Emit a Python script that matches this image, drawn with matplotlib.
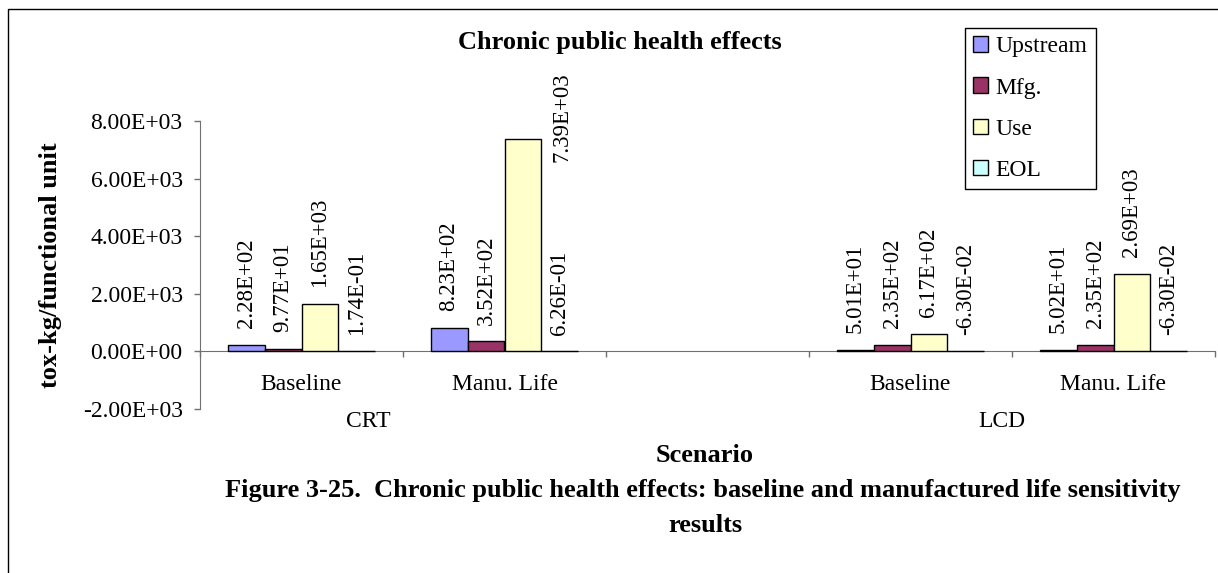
import numpy as np
import matplotlib
matplotlib.use("Agg")
import matplotlib.pyplot as plt
from matplotlib.ticker import FuncFormatter
from matplotlib.patches import Rectangle

# values (middle category is an empty spacer between CRT and LCD)
categories = ["Baseline", "Manu. Life", "", "Baseline", "Manu. Life"]
groups = ["CRT", "LCD"]
series = ["Upstream", "Mfg.", "Use", "EOL"]
upstream = [228, 823, np.nan, 50.1, 50.2]
mfg = [97.7, 352, np.nan, 235, 235]
use = [1650, 7390, np.nan, 617, 2690]
eol = [0.174, 0.626, np.nan, -0.063, -0.063]

colors = ["#9999FF", "#993366", "#FFFFCC", "#CCFFFF"]
axis_gray = "#707070"
FS = 17      # regular text
FSB = 19     # bold titles

plt.rcParams["font.family"] = ["Liberation Serif", "DejaVu Serif"]

fig = plt.figure(figsize=(12.18, 5.73), dpi=100)
ax = fig.add_axes([200 / 1218, 1 - 409 / 573, 1015 / 1218, 288 / 573])

ymin, ymax = -2000, 8000
x = np.arange(len(categories))
W = 0.182
for i, (vals, name, c) in enumerate(zip([upstream, mfg, use, eol], series, colors)):
    pos = x + (i - 1.5) * W
    ax.bar(pos, vals, W, color=c, edgecolor="black", linewidth=1, label=name, zorder=3)
    for p, v in zip(pos, vals):
        if np.isnan(v):
            continue
        top = max(v, 0)
        txt = "{:.2E}".format(v)
        if top + 3700 > ymax:
            # no room above the bar -> put label beside it
            ax.annotate(txt, (p + W / 2, top), xytext=(7, -17), textcoords="offset points",
                        rotation=90, ha="left", va="bottom", fontsize=16.5)
        else:
            ax.annotate(txt, (p, top), xytext=(0, 12), textcoords="offset points",
                        rotation=90, ha="center", va="bottom", fontsize=16.5)

ax.set_xlim(-0.5, len(categories) - 0.5)
ax.set_ylim(ymin, ymax)
ax.set_yticks(np.arange(ymin, ymax + 1, 2000))
ax.yaxis.set_major_formatter(FuncFormatter(lambda v, p: "{:.2E}".format(v)))

ax.set_xticks(np.arange(-0.5, len(categories), 1))
ax.set_xticklabels([])
ax.set_xticks(x, minor=True)
ax.set_xticklabels(categories, minor=True)

for s in ["top", "right"]:
    ax.spines[s].set_visible(False)
ax.spines["bottom"].set_position(("data", 0))
ax.spines["bottom"].set_color(axis_gray)
ax.spines["left"].set_color(axis_gray)

ax.tick_params(axis="y", direction="out", length=4.5, width=1, color=axis_gray, pad=8, labelsize=FS)
ax.tick_params(axis="x", which="major", direction="out", length=4, width=1, color=axis_gray)
ax.tick_params(axis="x", which="minor", length=0, pad=16, labelsize=FS)

for gx, g in zip([0.33, 3.45], groups):
    ax.text(gx, -0.045, g, transform=ax.get_xaxis_transform(), ha="center", va="center", fontsize=FS)

ax.set_ylabel("tox-kg/functional unit", fontsize=FSB, fontweight="bold")
ax.yaxis.set_label_coords(-0.136, 0.5)

leg = ax.legend(loc="upper left", bbox_to_anchor=(965 / 1218, 1 - 28 / 573), bbox_transform=fig.transFigure,
                fancybox=False, edgecolor="black", framealpha=1, borderaxespad=0,
                handlelength=0.64, handleheight=0.64, handletextpad=0.3, labelspacing=0.85,
                borderpad=0.35, prop={"size": FS})
leg.get_frame().set_linewidth(1)

fig.text(458 / 1218, 1 - 43 / 573, "Chronic public health effects", ha="left", va="center",
         fontsize=FSB, fontweight="bold")
fig.text(705 / 1218, 1 - 455 / 573, "Scenario", ha="center", va="center", fontsize=FSB, fontweight="bold")
fig.text(703 / 1218, 1 - 490 / 573,
         "Figure 3-25.  Chronic public health effects: baseline and manufactured life sensitivity",
         ha="center", va="center", fontsize=FSB, fontweight="bold")
fig.text(705 / 1218, 1 - 525 / 573, "results", ha="center", va="center", fontsize=FSB, fontweight="bold")

# outer frame (left and top edges visible in the reference)
fig.add_artist(Rectangle((8 / 1218, -0.05), 1.1, 1.05 - 9 / 573, transform=fig.transFigure,
                         fill=False, edgecolor="black", linewidth=1))

fig.savefig("out.png", dpi=100)
